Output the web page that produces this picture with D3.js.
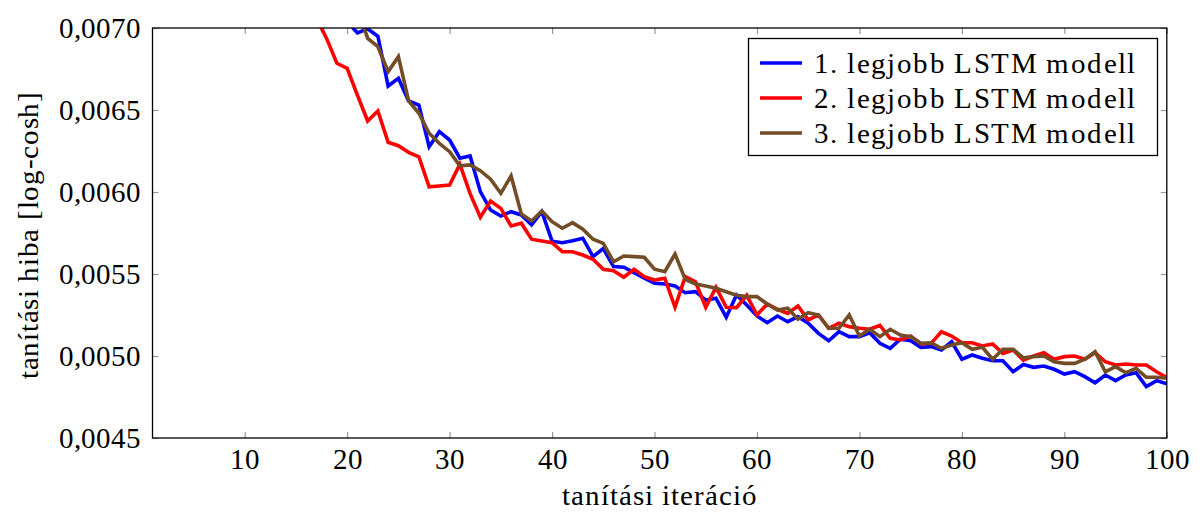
<!DOCTYPE html>
<html>
<head>
<meta charset="utf-8">
<script src="https://cdn.jsdelivr.net/npm/d3@7"></script>
<style>
  @font-face { font-family: "ChartSerif"; src: local("Liberation Serif"), local("LiberationSerif"), local("LiberationSerif-Regular"), local("Times New Roman"), local("DejaVu Serif"), local("DejaVuSerif"); }
  body { margin: 0; background: #fff; }
  svg text { font-family: "ChartSerif", "Liberation Serif", "Times New Roman", Tinos, "DejaVu Serif", "Noto Serif", serif; fill: #000; }
</style>
</head>
<body>
<script>
var width = 1204,
    height = 512;

var iterations = d3.range(1, 101);

// 1. legjobb LSTM modell (first points are above the visible range)
var model1 = [
  0.0125, 0.0108, 0.0099, 0.0093, 0.0089, 0.0086, 0.0083, 0.0081, 0.0079, 0.0078,
  0.0077, 0.0076, 0.0075, 0.0074, 0.00735, 0.00728, 0.00722, 0.00716, 0.00710, 0.00704,
  0.00697, 0.006995, 0.00695, 0.006646, 0.006693, 0.006555, 0.006530, 0.006276, 0.006368, 0.006317,
  0.006206, 0.006220, 0.006002, 0.005890, 0.005854, 0.005880, 0.005860, 0.005800, 0.005880, 0.005700,
  0.005691, 0.005703, 0.005718, 0.005606, 0.005655, 0.005545, 0.005541, 0.005508, 0.005474, 0.005443,
  0.005439, 0.005427, 0.005386, 0.005392, 0.005341, 0.005352, 0.005236, 0.005372, 0.005311, 0.005244,
  0.005203, 0.005244, 0.005209, 0.005240, 0.005200, 0.005138, 0.005093, 0.005148, 0.005118, 0.005118,
  0.005142, 0.005077, 0.005047, 0.005102, 0.005093, 0.005053, 0.005057, 0.005037, 0.005087, 0.004980,
  0.005006, 0.004986, 0.004971, 0.004971, 0.004904, 0.004948, 0.004931, 0.004939, 0.004919, 0.004890,
  0.004904, 0.004874, 0.004837, 0.004884, 0.004850, 0.004884, 0.004898, 0.004813, 0.004850, 0.004830
];

// 2. legjobb LSTM modell
var model2 = [
  0.0118, 0.0103, 0.0095, 0.0089, 0.0085, 0.0082, 0.0080, 0.0078, 0.0077, 0.0076,
  0.0075, 0.0074, 0.00735, 0.00728, 0.00720, 0.00713, 0.00706, 0.006935, 0.006785, 0.006754,
  0.006591, 0.006433, 0.006494, 0.006303, 0.006282, 0.006242, 0.006215, 0.006032, 0.006037, 0.006043,
  0.006170, 0.005990, 0.005846, 0.005945, 0.005900, 0.005793, 0.005810, 0.005712, 0.005701, 0.005691,
  0.005636, 0.005636, 0.005616, 0.005590, 0.005529, 0.005520, 0.005480, 0.005529, 0.005484, 0.005463,
  0.005474, 0.005297, 0.005484, 0.005453, 0.005297, 0.005419, 0.005297, 0.005295, 0.005370, 0.005250,
  0.005317, 0.005285, 0.005260, 0.005305, 0.005220, 0.005250, 0.005169, 0.005200, 0.005179, 0.005169,
  0.005163, 0.005186, 0.005108, 0.005098, 0.005122, 0.005073, 0.005077, 0.005148, 0.005122, 0.005081,
  0.005081, 0.005061, 0.005073, 0.005016, 0.005037, 0.004975, 0.005000, 0.005020, 0.004980, 0.004996,
  0.005000, 0.004980, 0.005020, 0.004965, 0.004945, 0.004951, 0.004945, 0.004945, 0.004904, 0.004870
];

// 3. legjobb LSTM modell
var model3 = [
  0.0128, 0.0110, 0.0100, 0.0094, 0.0090, 0.0087, 0.0084, 0.0082, 0.0080, 0.0079,
  0.0078, 0.0077, 0.0076, 0.0075, 0.0074, 0.00735, 0.0073, 0.00725, 0.0072, 0.00716,
  0.00712, 0.006937, 0.006886, 0.006734, 0.006825, 0.006555, 0.006480, 0.006358, 0.006297, 0.006246,
  0.006160, 0.006165, 0.006130, 0.006078, 0.005992, 0.006098, 0.005866, 0.005823, 0.005884, 0.005819,
  0.005779, 0.005813, 0.005773, 0.005712, 0.005687, 0.005575, 0.005610, 0.005606, 0.005602, 0.005529,
  0.005514, 0.005622, 0.005467, 0.005439, 0.005427, 0.005413, 0.005392, 0.005370, 0.005362, 0.005362,
  0.005317, 0.005280, 0.005291, 0.005224, 0.005264, 0.005250, 0.005169, 0.005169, 0.005250, 0.005122,
  0.005163, 0.005118, 0.005163, 0.005128, 0.005118, 0.005077, 0.005081, 0.005047, 0.005067, 0.005081,
  0.005041, 0.005053, 0.004980, 0.005041, 0.005041, 0.004989, 0.004996, 0.005000, 0.004965, 0.004955,
  0.004955, 0.004980, 0.005026, 0.004904, 0.004935, 0.004898, 0.004925, 0.004870, 0.004870, 0.004864
];

var seriesNames = ["1. legjobb LSTM modell", "2. legjobb LSTM modell", "3. legjobb LSTM modell"];
var seriesColors = ["#0000ff", "#ff0000", "#734d26"];
var xTicks = [10, 20, 30, 40, 50, 60, 70, 80, 90, 100];
var yTicks = [0.0045, 0.0050, 0.0055, 0.0060, 0.0065, 0.0070];

var margin = {left: 152.5, right: 1166.8, top: 28, bottom: 438};
var fontSize = "29px";

var x = d3.scaleLinear().domain([1, 100]).range([margin.left, margin.right]);
var y = d3.scaleLinear().domain([0.0045, 0.0070]).range([margin.bottom, margin.top]);

var fmt = function(v) { return d3.format(".4f")(v).replace(".", ","); };

var svg = d3.select("body").append("svg")
    .attr("width", width)
    .attr("height", height);

svg.append("clipPath").attr("id", "plotclip")
  .append("rect")
    .attr("x", margin.left)
    .attr("y", margin.top)
    .attr("width", margin.right - margin.left)
    .attr("height", margin.bottom - margin.top);

// ticks: pgfplots style, inside, grey, mirrored on opposite sides
var tickLen = 6;
var tickColor = "#999";

var xAxisB = svg.append("g")
    .attr("transform", "translate(0," + margin.bottom + ")")
    .call(d3.axisBottom(x).tickValues(xTicks).tickSizeInner(-tickLen).tickSizeOuter(0));
var xAxisT = svg.append("g")
    .attr("transform", "translate(0," + margin.top + ")")
    .call(d3.axisTop(x).tickValues(xTicks).tickSizeInner(-tickLen).tickSizeOuter(0).tickFormat(""));
var yAxisL = svg.append("g")
    .attr("transform", "translate(" + margin.left + ",0)")
    .call(d3.axisLeft(y).tickValues(yTicks).tickSizeInner(-tickLen).tickSizeOuter(0).tickPadding(12).tickFormat(fmt));
var yAxisR = svg.append("g")
    .attr("transform", "translate(" + margin.right + ",0)")
    .call(d3.axisRight(y).tickValues(yTicks).tickSizeInner(-tickLen).tickSizeOuter(0).tickFormat(""));

[xAxisB, xAxisT, yAxisL, yAxisR].forEach(function(a) {
  a.attr("font-family", null).attr("font-size", null);
  a.select(".domain").remove();
  a.selectAll(".tick line").attr("stroke", tickColor).attr("stroke-width", 1.2);
  a.selectAll(".tick text")
    .style("font-size", fontSize)
    .attr("fill", "#000");
});
xAxisB.selectAll(".tick text").attr("dy", "0.71em").attr("y", 10);

// line paths
var line = d3.line()
    .x(function(d, i) { return x(iterations[i]); })
    .y(function(d) { return y(d); });

var plot = svg.append("g").attr("clip-path", "url(#plotclip)");
[model1, model2, model3].forEach(function(s, i) {
  plot.append("path")
    .datum(s)
    .attr("d", line)
    .attr("fill", "none")
    .attr("stroke", seriesColors[i])
    .attr("stroke-width", 3.6)
    .attr("stroke-linejoin", "miter")
    .attr("stroke-miterlimit", 10);
});

// frame
svg.append("rect")
    .attr("x", margin.left)
    .attr("y", margin.top)
    .attr("width", margin.right - margin.left)
    .attr("height", margin.bottom - margin.top)
    .attr("fill", "none")
    .attr("stroke", "#000")
    .attr("stroke-width", 1.3);

// axis titles
svg.append("text")
    .attr("x", (margin.left + margin.right) / 2)
    .attr("y", 505)
    .attr("text-anchor", "middle")
    .style("font-size", fontSize)
    .style("letter-spacing", "1px")
    .text("tanítási iteráció");

svg.append("text")
    .attr("transform", "translate(38," + ((margin.top + margin.bottom) / 2 + 2) + ") rotate(-90)")
    .attr("text-anchor", "middle")
    .style("font-size", fontSize)
    .style("letter-spacing", "0.7px")
    .text("tanítási hiba [log-cosh]");

// legend
var legend = svg.append("g");
legend.append("rect")
    .attr("x", 748.5)
    .attr("y", 38.5)
    .attr("width", 409)
    .attr("height", 117)
    .attr("fill", "#fff")
    .attr("stroke", "#000")
    .attr("stroke-width", 1.3);

var items = legend.selectAll("g.item")
    .data(seriesNames).enter().append("g")
    .attr("class", "item")
    .attr("transform", function(d, i) { return "translate(0," + (63 + i * 35) + ")"; });

items.append("line")
    .attr("x1", 760).attr("x2", 802)
    .attr("y1", 0).attr("y2", 0)
    .attr("stroke", function(d, i) { return seriesColors[i]; })
    .attr("stroke-width", 3.6);

items.append("text")
    .attr("x", 814)
    .attr("dy", "0.33em")
    .style("font-size", fontSize)
    .style("letter-spacing", "1.4px")
    .text(function(d) { return d; });
</script>
</body>
</html>
